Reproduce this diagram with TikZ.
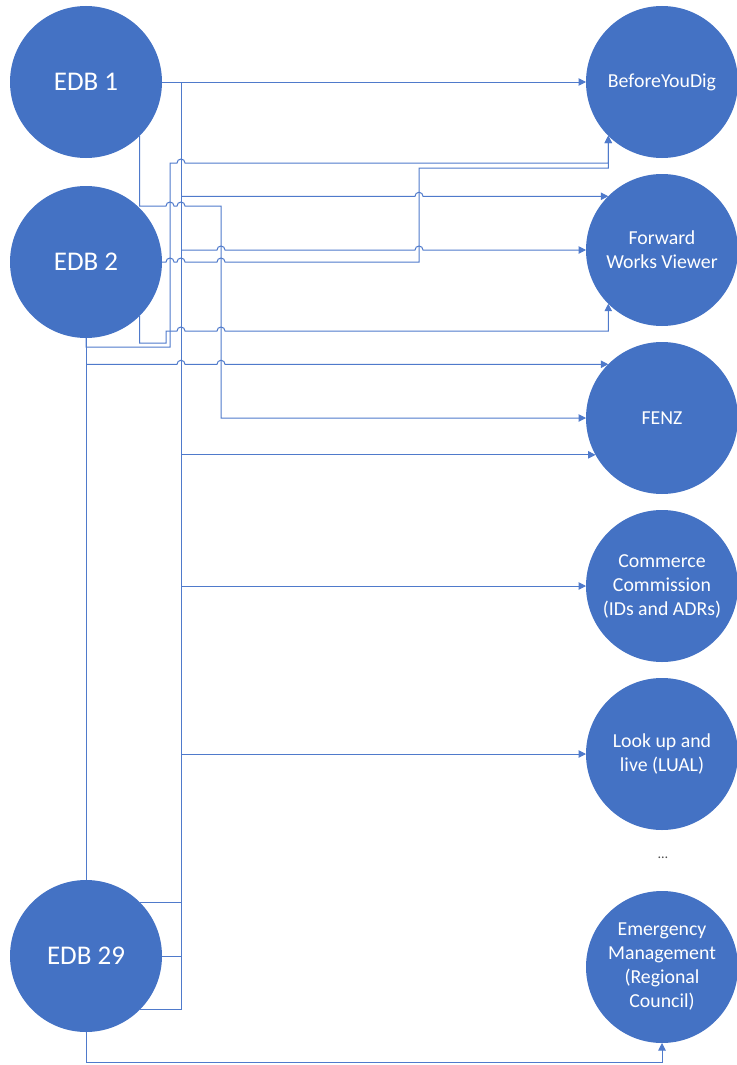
\documentclass[tikz,border=0pt]{standalone}
\usepackage{fontspec}
\setmainfont{Carlito}
\usetikzlibrary{arrows.meta,calc}
\definecolor{acc}{HTML}{4472C4}
\definecolor{ln}{HTML}{4F7ACB}
\tikzset{
 big/.style={circle,fill=acc,minimum size=152pt,inner sep=0pt,outer sep=0pt,text=white,font=\fontsize{27}{32}\selectfont},
 sink/.style={circle,fill=acc,minimum size=152pt,inner sep=0pt,outer sep=0pt,text=white,align=center,font=\fontsize{19.8}{24}\selectfont},
 wire/.style={draw=ln,line width=1pt},
 arr/.style={wire,-{Triangle[length=7.5pt,width=7.5pt]}}
}
\begin{document}
\begin{tikzpicture}[x=1pt,y=1pt]
\useasboundingbox (0,0) rectangle (736,-1065);
% sources
\node[big] (e1) at (86,-82) {EDB 1};
\node[big] (e2) at (86,-262) {EDB 2};
\node[big] (e29) at (86,-956) {EDB 29};
% sinks
\node[sink] (byd) at (662,-82) {BeforeYouDig};
\node[sink] (fwv) at (662,-250) {Forward\\Works Viewer};
\node[sink] (fenz) at (662,-418) {FENZ};
\node[sink] (cc) at (662,-586) {Commerce\\Commission\\(IDs and ADRs)};
\node[sink] (lual) at (662,-754) {Look up and\\live (LUAL)};
\node[font=\fontsize{14}{16}\selectfont,text=black!70] (dots) at (663,-858) {…};
\node[sink] (em) at (662,-967) {Emergency\\Management\\(Regional\\Council)};
\coordinate (t) at (181,0);
% EDB 1 direct
\draw[arr] (e1.east) -- (byd.west);
% trunk
\draw[wire] (e1.east -| t) -- (t |- e29.-45);
\draw[wire] (e29.45) -- (t |- e29.45);
\draw[wire] (e29.east) -- (t |- e29.east);
\draw[wire] (e29.-45) -- (t |- e29.-45);
% trunk branches
\draw[arr] (t |- fwv.135) -- (415,-196.26) arc[start angle=180,end angle=0,radius=4pt] -- (fwv.135);
\draw[arr] (t |- fwv.west) -- (217,-250) arc[start angle=180,end angle=0,radius=4pt] -- (415,-250) arc[start angle=180,end angle=0,radius=4pt] -- (fwv.west);
\draw[arr] (t |- fenz.209) -- (fenz.209);
\draw[arr] (t |- cc.west) -- (cc.west);
\draw[arr] (t |- lual.west) -- (lual.west);
% EDB 1 -> FENZ
\draw[arr] (e1.-45) -- (139.74,-206) -- (166,-206) arc[start angle=180,end angle=0,radius=4pt] -- (177,-206) arc[start angle=180,end angle=0,radius=4pt] -- (221,-206) |- (fenz.west);
% EDB 2 -> BeforeYouDig (side)
\draw[arr] (e2.east) -- (166,-262) arc[start angle=180,end angle=0,radius=4pt] -- (177,-262) arc[start angle=180,end angle=0,radius=4pt] -- (217,-262) arc[start angle=180,end angle=0,radius=4pt] -- (419,-262) -- (419,-168) -| (byd.-135);
% EDB 2 -> BeforeYouDig (bottom)
\draw[arr] (e2.south) -- (86,-347) -- (170,-347) -- (170,-163) -- (177,-163) arc[start angle=180,end angle=0,radius=4pt] -- (185,-163) -| (byd.-135);
% EDB 2 -> Forward Works Viewer
\draw[arr] (e2.-45) -- (139.74,-343) -- (166,-343) -- (166,-331) -- (177,-331) arc[start angle=180,end angle=0,radius=4pt] -- (217,-331) arc[start angle=180,end angle=0,radius=4pt] -- (225,-331) -| (fwv.-135);
% EDB 2 / EDB 29 spine
\draw[wire] (e2.south) -- (e29.north);
\draw[arr] (e2.south |- fenz.135) -- (177,-364.26) arc[start angle=180,end angle=0,radius=4pt] -- (217,-364.26) arc[start angle=180,end angle=0,radius=4pt] -- (fenz.135);
% EDB 29 -> Emergency
\draw[arr] (e29.south) -- ++(0,-30) -| (em.south);
\end{tikzpicture}
\end{document}
